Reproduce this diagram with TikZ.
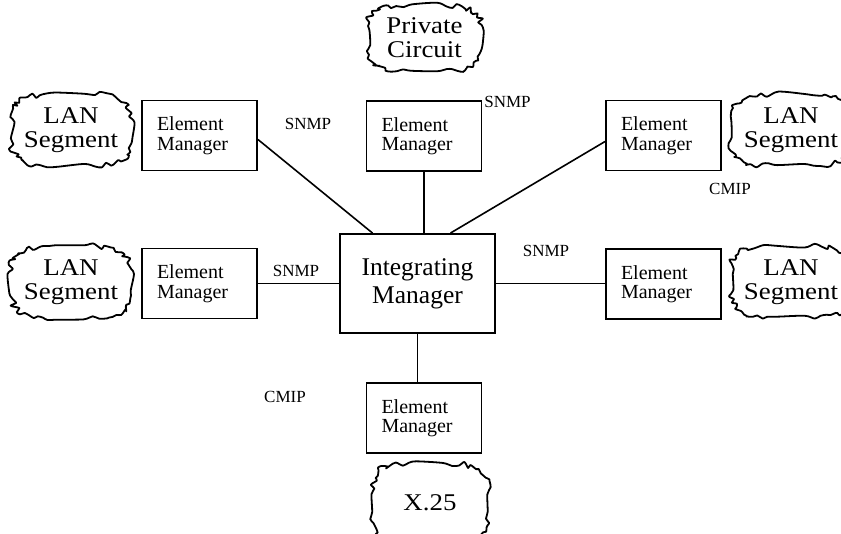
\documentclass[tikz,border=0pt]{standalone}
\usepackage{fontspec}
\setmainfont{Liberation Serif}
\newfontfamily\cloudfont{Liberation Serif}[FakeStretch=1.12]
\usetikzlibrary{calc}
\newcommand\cloudoutline[3]{%
  \draw[cloudline,shift={(#1.center)}] plot[smooth cycle,samples=64,domain=2.8125:357.1875,variable=\t]
    ({#2*sign(cos(\t))*sqrt(abs(cos(\t)))*(1+0.06*rand)},
     {#3*sign(sin(\t))*sqrt(abs(sin(\t)))*(1+0.08*rand)});}
\begin{document}
\begin{tikzpicture}[x=1pt,y=-1pt,
  em/.style={draw,line width=1.9pt,minimum width=115pt,minimum height=70pt,
    text width=85pt,align=left,inner xsep=15pt,
    font=\fontsize{20}{19.5}\selectfont},
  im/.style={draw,line width=1.9pt,minimum width=155pt,minimum height=99pt,
    align=center,font=\fontsize{25.5}{28}\selectfont},
  cloudtext/.style={align=center,font=\cloudfont\fontsize{24}{24}\selectfont,inner sep=0pt},
  cloudline/.style={draw,line width=1.8pt,line join=round},
  lbl/.style={font=\fontsize{17}{17}\selectfont,inner sep=0pt},
  link/.style={line width=1.6pt}]
\useasboundingbox (0,0) rectangle (841,533);
\clip (0,0) rectangle (841,533);
\pgfmathsetseed{11}
% managers
\node[im] (im) at (417.5,283.5) {Integrating\\Manager};
\node[em] (emTL) at (199.5,135.5) {Element\\Manager};
\node[em] (emTC) at (424,136) {Element\\Manager};
\node[em] (emTR) at (663.5,135.5) {Element\\Manager};
\node[em] (emML) at (199.5,283.5) {Element\\Manager};
\node[em] (emMR) at (663.5,284) {Element\\Manager};
\node[em] (emB) at (424,418) {Element\\Manager};
% clouds
\node[cloudtext] (lanTL) at (71,130) {LAN\\Segment};
\node[cloudtext] (lanML) at (71,282) {LAN\\Segment};
\node[cloudtext] (lanTR) at (791,130) {LAN\\Segment};
\node[cloudtext] (lanMR) at (791,282) {LAN\\Segment};
\node[cloudtext] (priv) at (424.5,38) {Private\\Circuit};
\node[cloudtext] (x25) at (430,503) {X.25};
\cloudoutline{lanTL}{60}{36}
\cloudoutline{lanML}{60}{36}
\cloudoutline{lanTR}{60}{36}
\cloudoutline{lanMR}{60}{36}
\cloudoutline{priv}{57}{33}
\cloudoutline{x25}{58}{40}
% connectors
\coordinate (imTLin) at ($(im.north)+(-45,0)$);
\coordinate (imTRin) at ($(im.north)+(33,0)$);
\draw[link] ($(emTL.east)+(0,4)$) -- (imTLin);
\draw[link] ($(emTR.west)+(0,6)$) -- (imTRin);
\draw[link] (emTC.south) -- (emTC.south |- im.north);
\draw[link] (emML.east) -- (emML.east -| im.west);
\draw[link] (im.east) -- (im.east -| emMR.west);
\draw[link] (im.south) -- (im.south |- emB.north);
% labels
\node[lbl] (s1) at (308,124) {SNMP};
\node[lbl] (s2) at (507.5,102) {SNMP};
\node[lbl] (c1) at (730,189) {CMIP};
\node[lbl] (s3) at (296,271) {SNMP};
\node[lbl] (s4) at (546,251) {SNMP};
\node[lbl] (c2) at (285,397) {CMIP};
\end{tikzpicture}
\end{document}
